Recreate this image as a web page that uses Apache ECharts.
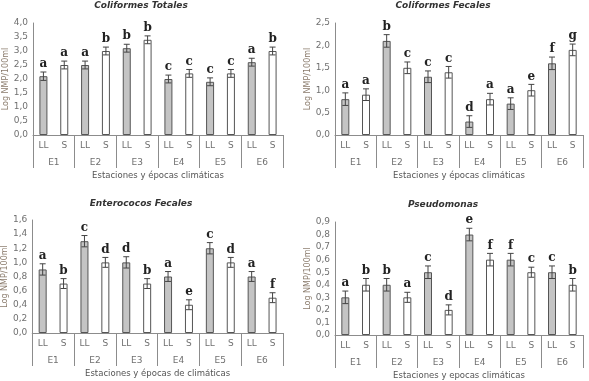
<!DOCTYPE html>
<html>
<head>
<meta charset="utf-8">
<script src="https://cdn.jsdelivr.net/npm/echarts@6/dist/echarts.min.js"></script>
<style>
html, body { margin: 0; padding: 0; background: #fff; }
#chart { width: 589px; height: 381px; }
</style>
</head>
<body>
<div id="chart"></div>
<script>
// categorias
const epocas = ['LL', 'S', 'LL', 'S', 'LL', 'S', 'LL', 'S', 'LL', 'S', 'LL', 'S'];
const estaciones = ['E1', 'E2', 'E3', 'E4', 'E5', 'E6'];

// Coliformes Totales
const totalesVal = [2.1, 2.5, 2.5, 3.0, 3.1, 3.4, 2.0, 2.2, 1.9, 2.2, 2.6, 3.0];
const totalesErr = [0.15, 0.14, 0.14, 0.14, 0.14, 0.14, 0.14, 0.14, 0.14, 0.14, 0.14, 0.14];
const totalesLetras = ['a', 'a', 'a', 'b', 'b', 'b', 'c', 'c', 'c', 'c', 'a', 'b'];

// Coliformes Fecales
const fecalesVal = [0.8, 0.9, 2.1, 1.5, 1.3, 1.4, 0.3, 0.8, 0.7, 1.0, 1.6, 1.9];
const fecalesErr = [0.14, 0.13, 0.14, 0.13, 0.13, 0.13, 0.13, 0.13, 0.13, 0.13, 0.14, 0.13];
const fecalesLetras = ['a', 'a', 'b', 'c', 'c', 'c', 'd', 'a', 'a', 'e', 'f', 'g'];

// Enterococos Fecales
const enteroVal = [0.9, 0.7, 1.3, 1.0, 1.0, 0.7, 0.8, 0.4, 1.2, 1.0, 0.8, 0.5];
const enteroErr = [0.08, 0.07, 0.08, 0.07, 0.08, 0.07, 0.07, 0.07, 0.08, 0.07, 0.07, 0.07];
const enteroLetras = ['a', 'b', 'c', 'd', 'd', 'b', 'a', 'e', 'c', 'd', 'a', 'f'];

// Pseudomonas
const pseudoVal = [0.3, 0.4, 0.4, 0.3, 0.5, 0.2, 0.8, 0.6, 0.6, 0.5, 0.5, 0.4];
const pseudoErr = [0.05, 0.05, 0.05, 0.04, 0.05, 0.04, 0.05, 0.05, 0.05, 0.04, 0.05, 0.05];
const pseudoLetras = ['a', 'b', 'b', 'a', 'c', 'd', 'e', 'f', 'f', 'c', 'c', 'b'];

const panels = [
  { titulo: 'Coliformes Totales', ejeX: 'Estaciones y épocas climáticas', val: totalesVal, err: totalesErr, letras: totalesLetras, max: 4, step: 0.5,
    left: 33, top: 23, width: 250, height: 112, tx: 141, ty: 6 },
  { titulo: 'Coliformes Fecales', ejeX: 'Estaciones y épocas climáticas', val: fecalesVal, err: fecalesErr, letras: fecalesLetras, max: 2.5, step: 0.5,
    left: 335, top: 23, width: 248, height: 112, tx: 443, ty: 6 },
  { titulo: 'Enterococos Fecales', ejeX: 'Estaciones y épocas de climáticas', val: enteroVal, err: enteroErr, letras: enteroLetras, max: 1.6, step: 0.2,
    left: 32, top: 220, width: 251, height: 113, tx: 141, ty: 204 },
  { titulo: 'Pseudomonas', ejeX: 'Estaciones y epocas climáticas', val: pseudoVal, err: pseudoErr, letras: pseudoLetras, max: 0.9, step: 0.1,
    left: 335, top: 222, width: 248, height: 113, tx: 443, ty: 205 }
];

const gris = '#707070';
const font = '"DejaVu Sans", Verdana, sans-serif';

const title = [], grid = [], xAxis = [], yAxis = [], series = [];

panels.forEach((p, k) => {
  title.push({
    text: p.titulo,
    left: p.tx,
    top: p.ty - 5,
    padding: 0,
    textAlign: 'center',
    textStyle: { fontFamily: font, fontSize: 9, fontWeight: 'bold', fontStyle: 'italic', color: '#333' }
  });
  grid.push({ left: p.left, top: p.top, width: p.width, height: p.height });

  xAxis.push({
    type: 'category', gridIndex: k, data: epocas, position: 'bottom',
    axisLine: { lineStyle: { color: '#8c8c8c' } },
    axisTick: { show: false },
    axisLabel: { interval: 0, margin: 6, fontSize: 9, color: gris, fontFamily: font }
  });
  xAxis.push({
    type: 'category', gridIndex: k, data: estaciones, position: 'bottom',
    axisLine: { show: false },
    axisTick: { show: true, interval: 0, length: 33, lineStyle: { color: '#8c8c8c' } },
    axisLabel: { interval: 0, margin: 23, fontSize: 9, color: gris, fontFamily: font },
    name: p.ejeX, nameLocation: 'middle', nameGap: 36,
    nameTextStyle: { fontSize: 8.5, color: '#555', fontFamily: font }
  });

  yAxis.push({
    type: 'value', gridIndex: k, min: 0, max: p.max, interval: p.step,
    axisLine: { show: true, lineStyle: { color: '#8c8c8c' } },
    axisTick: { show: false },
    splitLine: { show: false },
    axisLabel: { fontSize: 9, color: gris, fontFamily: font, margin: 5,
      formatter: v => v.toFixed(1).replace('.', ',') },
    name: 'Log NMP/100ml', nameLocation: 'middle', nameGap: 21,
    nameTextStyle: { fontSize: 8, color: '#8a7b6c', fontFamily: font }
  });

  series.push({
    type: 'bar', xAxisIndex: 2 * k, yAxisIndex: k, data: p.val, barWidth: 8,
    itemStyle: {
      color: params => (params.dataIndex % 2 === 0 ? '#c4c4c4' : '#ffffff'),
      borderColor: '#555', borderWidth: 1
    },
    silent: true
  });

  series.push({
    type: 'custom', xAxisIndex: 2 * k, yAxisIndex: k,
    data: p.val.map((v, i) => [i, v, p.err[i]]),
    encode: { x: 0, y: 1 },
    z: 5,
    renderItem: (params, api) => {
      const i = api.value(0), v = api.value(1), e = api.value(2);
      const x = api.coord([i, v])[0];
      const yTop = api.coord([i, v + e])[1];
      const yBot = api.coord([i, v - e])[1];
      const c = 3;
      const ln = { stroke: '#444', lineWidth: 1 };
      return {
        type: 'group',
        children: [
          { type: 'line', shape: { x1: x, y1: yTop, x2: x, y2: yBot }, style: ln },
          { type: 'line', shape: { x1: x - c, y1: yTop, x2: x + c, y2: yTop }, style: ln },
          { type: 'line', shape: { x1: x - c, y1: yBot, x2: x + c, y2: yBot }, style: ln },
          { type: 'text', x: x, y: yTop - 2,
            style: { text: p.letras[i], align: 'center', verticalAlign: 'bottom',
              font: 'bold 12px "DejaVu Serif", serif', fill: '#222' } }
        ]
      };
    }
  });
});

const myChart = echarts.init(document.getElementById('chart'));
myChart.setOption({
  animation: false,
  backgroundColor: '#fff',
  title: title,
  grid: grid,
  xAxis: xAxis,
  yAxis: yAxis,
  series: series
});
</script>
</body>
</html>
